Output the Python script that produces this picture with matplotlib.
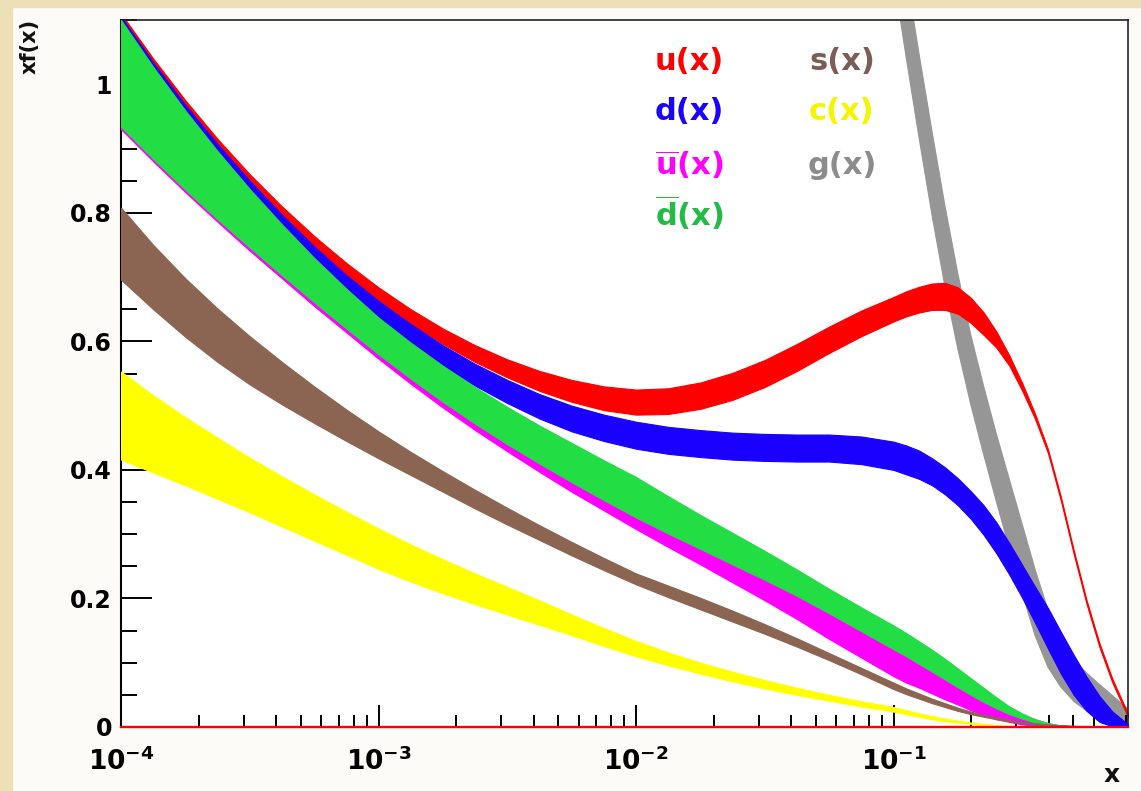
import matplotlib
matplotlib.use("Agg")
import matplotlib.pyplot as plt
from matplotlib.patches import Rectangle
from matplotlib.ticker import FixedLocator, FixedFormatter, MultipleLocator, LogLocator, NullFormatter

plt.rcParams['font.family'] = ['DejaVu Sans']
plt.rcParams['mathtext.fontset'] = 'dejavusans'
plt.rcParams['mathtext.default'] = 'bf'

# ---------------- data ----------------
x = [1.0e-4, 1.334e-4, 1.778e-4, 2.371e-4, 3.162e-4, 4.217e-4, 5.623e-4, 7.499e-4,
     1.0e-3, 1.334e-3, 1.778e-3, 2.371e-3, 3.162e-3, 4.217e-3, 5.623e-3, 7.499e-3,
     1.0e-2, 1.334e-2, 1.778e-2, 2.371e-2, 3.162e-2, 4.217e-2, 5.623e-2, 7.499e-2,
     0.1, 0.1122, 0.1259, 0.1413, 0.1585, 0.1778, 0.1995, 0.2239, 0.2512, 0.2818,
     0.3162, 0.3548, 0.3981, 0.4467, 0.5012, 0.5623, 0.6310, 0.7079, 0.815]

u_hi = [1.11, 1.04, 0.975, 0.915, 0.86, 0.81, 0.764, 0.722,
        0.684, 0.65, 0.62, 0.594, 0.572, 0.554, 0.54, 0.53,
        0.525, 0.527, 0.536, 0.551, 0.571, 0.596, 0.623, 0.648,
        0.669, 0.678, 0.685, 0.69, 0.691, 0.684, 0.668, 0.645, 0.615, 0.578,
        0.535, 0.487, 0.432, 0.358, 0.275, 0.197, 0.13, 0.075, 0.02]
u_lo = [1.095, 1.024, 0.958, 0.897, 0.84, 0.787, 0.738, 0.693,
        0.664, 0.628, 0.596, 0.568, 0.544, 0.523, 0.506, 0.493,
        0.486, 0.487, 0.495, 0.509, 0.529, 0.554, 0.582, 0.608,
        0.631, 0.639, 0.645, 0.649, 0.649, 0.643, 0.629, 0.61, 0.59, 0.562,
        0.523, 0.479, 0.426, 0.352, 0.269, 0.191, 0.124, 0.069, 0.015]

d_hi = [1.105, 1.034, 0.968, 0.907, 0.85, 0.797, 0.748, 0.703,
        0.663, 0.627, 0.594, 0.565, 0.54, 0.518, 0.5, 0.486,
        0.475, 0.467, 0.462, 0.458, 0.456, 0.455, 0.455, 0.452,
        0.444, 0.438, 0.43, 0.418, 0.404, 0.387, 0.367, 0.345, 0.318, 0.286,
        0.252, 0.218, 0.185, 0.148, 0.112, 0.078, 0.048, 0.024, 0.004]
d_lo = [1.09, 1.017, 0.949, 0.886, 0.827, 0.772, 0.72, 0.672,
        0.627, 0.596, 0.562, 0.531, 0.504, 0.48, 0.46, 0.445,
        0.433, 0.425, 0.42, 0.416, 0.414, 0.413, 0.413, 0.409,
        0.40, 0.393, 0.386, 0.376, 0.362, 0.345, 0.324, 0.299, 0.27, 0.237,
        0.201, 0.162, 0.122, 0.083, 0.05, 0.025, 0.008, 0.001, 0.0]

dbar_hi = [1.10, 1.027, 0.959, 0.896, 0.837, 0.782, 0.730, 0.682,
           0.637, 0.598, 0.562, 0.529, 0.498, 0.469, 0.442, 0.415,
           0.389, 0.359, 0.33, 0.302, 0.274, 0.245, 0.215, 0.186,
           0.158, 0.146, 0.133, 0.12, 0.106, 0.091, 0.076, 0.061, 0.046, 0.032,
           0.021, 0.012, 0.006, 0.002, 0.0, 0.0, 0.0, 0.0, 0.0]
dbar_lo = [0.934, 0.884, 0.836, 0.79, 0.746, 0.703, 0.661, 0.62,
           0.58, 0.542, 0.506, 0.472, 0.44, 0.41, 0.381, 0.353,
           0.326, 0.301, 0.277, 0.253, 0.229, 0.204, 0.177, 0.149,
           0.121, 0.11, 0.098, 0.086, 0.074, 0.062, 0.05, 0.039, 0.029, 0.02,
           0.013, 0.007, 0.003, 0.001, 0.0, 0.0, 0.0, 0.0, 0.0]

ubar_hi = [0.949, 0.899, 0.851, 0.805, 0.761, 0.718, 0.676, 0.635,
           0.595, 0.557, 0.521, 0.487, 0.455, 0.425, 0.396, 0.368,
           0.341, 0.316, 0.292, 0.268, 0.244, 0.219, 0.192, 0.164,
           0.136, 0.125, 0.113, 0.101, 0.089, 0.077, 0.065, 0.054, 0.044, 0.03,
           0.02, 0.012, 0.006, 0.002, 0.0, 0.0, 0.0, 0.0, 0.0]
ubar_lo = [0.93, 0.88, 0.832, 0.786, 0.741, 0.698, 0.655, 0.614,
           0.573, 0.534, 0.497, 0.462, 0.429, 0.397, 0.366, 0.337,
           0.308, 0.28, 0.253, 0.225, 0.197, 0.168, 0.137, 0.108,
           0.079, 0.069, 0.061, 0.052, 0.043, 0.035, 0.026, 0.019, 0.012, 0.008,
           0.004, 0.002, 0.001, 0.0, 0.0, 0.0, 0.0, 0.0, 0.0]

s_hi = [0.808, 0.75, 0.698, 0.651, 0.608, 0.568, 0.53, 0.494,
        0.46, 0.428, 0.398, 0.369, 0.341, 0.314, 0.288, 0.263,
        0.239, 0.22, 0.201, 0.181, 0.16, 0.138, 0.115, 0.092,
        0.069, 0.06, 0.052, 0.044, 0.037, 0.03, 0.024, 0.019, 0.015, 0.011,
        0.008, 0.006, 0.004, 0.003, 0.002, 0.001, 0.001, 0.0, 0.0]
s_lo = [0.696, 0.65, 0.607, 0.568, 0.533, 0.502, 0.473, 0.445,
        0.418, 0.392, 0.366, 0.34, 0.315, 0.291, 0.267, 0.244,
        0.222, 0.202, 0.183, 0.164, 0.145, 0.125, 0.104, 0.082,
        0.059, 0.051, 0.044, 0.037, 0.031, 0.025, 0.02, 0.016, 0.012, 0.009,
        0.006, 0.004, 0.003, 0.002, 0.001, 0.0, 0.0, 0.0, 0.0]

c_hi = [0.553, 0.516, 0.482, 0.45, 0.419, 0.39, 0.362, 0.335,
        0.309, 0.284, 0.261, 0.239, 0.218, 0.197, 0.175, 0.154,
        0.134, 0.116, 0.1, 0.086, 0.073, 0.061, 0.05, 0.04,
        0.031, 0.026, 0.021, 0.017, 0.013, 0.01, 0.007, 0.005, 0.003, 0.002,
        0.001, 0.0, 0.0, 0.0, 0.0, 0.0, 0.0, 0.0, 0.0]
c_lo = [0.416, 0.396, 0.376, 0.355, 0.334, 0.312, 0.29, 0.268,
        0.246, 0.226, 0.208, 0.191, 0.175, 0.159, 0.143, 0.126,
        0.11, 0.096, 0.083, 0.071, 0.06, 0.05, 0.041, 0.032,
        0.024, 0.02, 0.016, 0.012, 0.009, 0.007, 0.005, 0.003, 0.002, 0.001,
        0.0, 0.0, 0.0, 0.0, 0.0, 0.0, 0.0, 0.0, 0.0]

g_x = [0.0891, 0.1, 0.1122, 0.1259, 0.1413, 0.1585, 0.1778, 0.1995, 0.2239, 0.2512,
       0.2818, 0.3162, 0.3548, 0.3981, 0.4467, 0.5012, 0.5623, 0.6310, 0.7079, 0.815]
g_hi = [1.43, 1.30, 1.17, 1.045, 0.925, 0.81, 0.705, 0.61, 0.53, 0.455,
        0.385, 0.315, 0.245, 0.182, 0.135, 0.105, 0.084, 0.066, 0.049, 0.028]
g_lo = [1.30, 1.17, 1.04, 0.915, 0.795, 0.685, 0.588, 0.502, 0.424, 0.35,
        0.278, 0.208, 0.142, 0.093, 0.062, 0.04, 0.025, 0.015, 0.008, 0.002]

xtick_vals = [1e-4, 1e-3, 1e-2, 1e-1]
xtick_labels = [r'$\mathbf{10^{-4}}$', r'$\mathbf{10^{-3}}$', r'$\mathbf{10^{-2}}$', r'$\mathbf{10^{-1}}$']
ytick_vals = [0, 0.2, 0.4, 0.6, 0.8, 1.0]
ytick_labels = ['0', '0.2', '0.4', '0.6', '0.8', '1']

legend_col1 = ['u(x)', 'd(x)', r'$\overline{\mathbf{u}}\mathbf{(x)}$', r'$\overline{\mathbf{d}}\mathbf{(x)}$']
legend_col1_colors = ['#FF0000', '#1A00FF', '#FF00FF', '#22BB44']
legend_col2 = ['s(x)', 'c(x)', 'g(x)']
legend_col2_colors = ['#7D5C55', '#F5F500', '#8C8C8C']

# ---------------- figure ----------------
W, H = 1141, 791
fig = plt.figure(figsize=(W / 100, H / 100), dpi=100)
fig.patch.set_facecolor('#FCFBF7')
beige = '#EDE0B8'
fig.add_artist(Rectangle((0, 0), 12 / W, 1, transform=fig.transFigure, color=beige, zorder=0))
fig.add_artist(Rectangle((0, 1 - 7 / H), 1, 7 / H, transform=fig.transFigure, color=beige, zorder=0))

L, R, T, B = 121, 1128, 20, 727
ax = fig.add_axes([L / W, 1 - B / H, (R - L) / W, (B - T) / H])
ax.set_facecolor('white')
ax.set_xscale('log')
ax.set_xlim(1e-4, 0.814)
ax.set_ylim(0, 1.1)

def band(xs, lo, hi, col, z):
    ax.fill_between(xs, lo, hi, facecolor=col, edgecolor=col, linewidth=0.8, zorder=z)

band(g_x, g_lo, g_hi, '#969696', 1.5)
band(x, u_lo, u_hi, '#FF0000', 2)
band(x, d_lo, d_hi, '#1A00FF', 3)
band(x, ubar_lo, ubar_hi, '#FF00FF', 4)
band(x, dbar_lo, dbar_hi, '#22DD44', 5)
band(x, s_lo, s_hi, '#8B6452', 6)
band(x, c_lo, c_hi, '#FFFF00', 7)

ax.axhline(0, color='#FF0000', lw=1.6, zorder=10, clip_on=False)
ax.axvline(0.814, color='#FF6666', lw=0.6, zorder=0.5)

for side in ['left', 'bottom']:
    ax.spines[side].set_linewidth(1.5)
for side in ['top', 'right']:
    ax.spines[side].set_linewidth(1.2)
    ax.spines[side].set_color('#222222')

ax.xaxis.set_major_locator(FixedLocator(xtick_vals))
ax.xaxis.set_major_formatter(FixedFormatter(xtick_labels))
ax.xaxis.set_minor_locator(LogLocator(base=10, subs=[2, 3, 4, 5, 6, 7, 8, 9], numticks=20))
ax.xaxis.set_minor_formatter(NullFormatter())
ax.yaxis.set_major_locator(FixedLocator(ytick_vals))
ax.yaxis.set_major_formatter(FixedFormatter(ytick_labels))
ax.yaxis.set_minor_locator(MultipleLocator(0.05))

ax.tick_params(axis='x', which='major', direction='in', length=16, width=1.4, pad=15,
               labelsize=19, top=False)
ax.tick_params(axis='x', which='minor', direction='in', length=8.5, width=1.4, top=False)
ax.tick_params(axis='y', which='major', direction='in', length=22, width=1.4, pad=6.5,
               labelsize=17, right=False)
ax.tick_params(axis='y', which='minor', direction='in', length=11.5, width=1.4, right=False)
for lab in ax.get_yticklabels():
    lab.set_fontweight('bold')

# axis titles
fig.text(30 / W, 1 - 46 / H, 'xf(x)', rotation=90, ha='center', va='center',
         fontsize=15, fontweight='bold', color='#111111')
fig.text(1112 / W, 1 - 775 / H, 'x', ha='center', va='center', fontsize=18,
         fontweight='bold', color='#111111')

# legend texts
col1_y = [62, 112, 165, 213]
for txt, col, yy in zip(legend_col1, legend_col1_colors, col1_y):
    fig.text(689 / W, 1 - yy / H, txt, ha='center', va='center', fontsize=22,
             fontweight='bold', color=col, zorder=20)
col2_y = [62, 112, 165]
for txt, col, yy in zip(legend_col2, legend_col2_colors, col2_y):
    fig.text(842 / W, 1 - yy / H, txt, ha='center', va='center', fontsize=22,
             fontweight='bold', color=col, zorder=20)

fig.savefig('out.png', dpi=100, facecolor=fig.get_facecolor())
